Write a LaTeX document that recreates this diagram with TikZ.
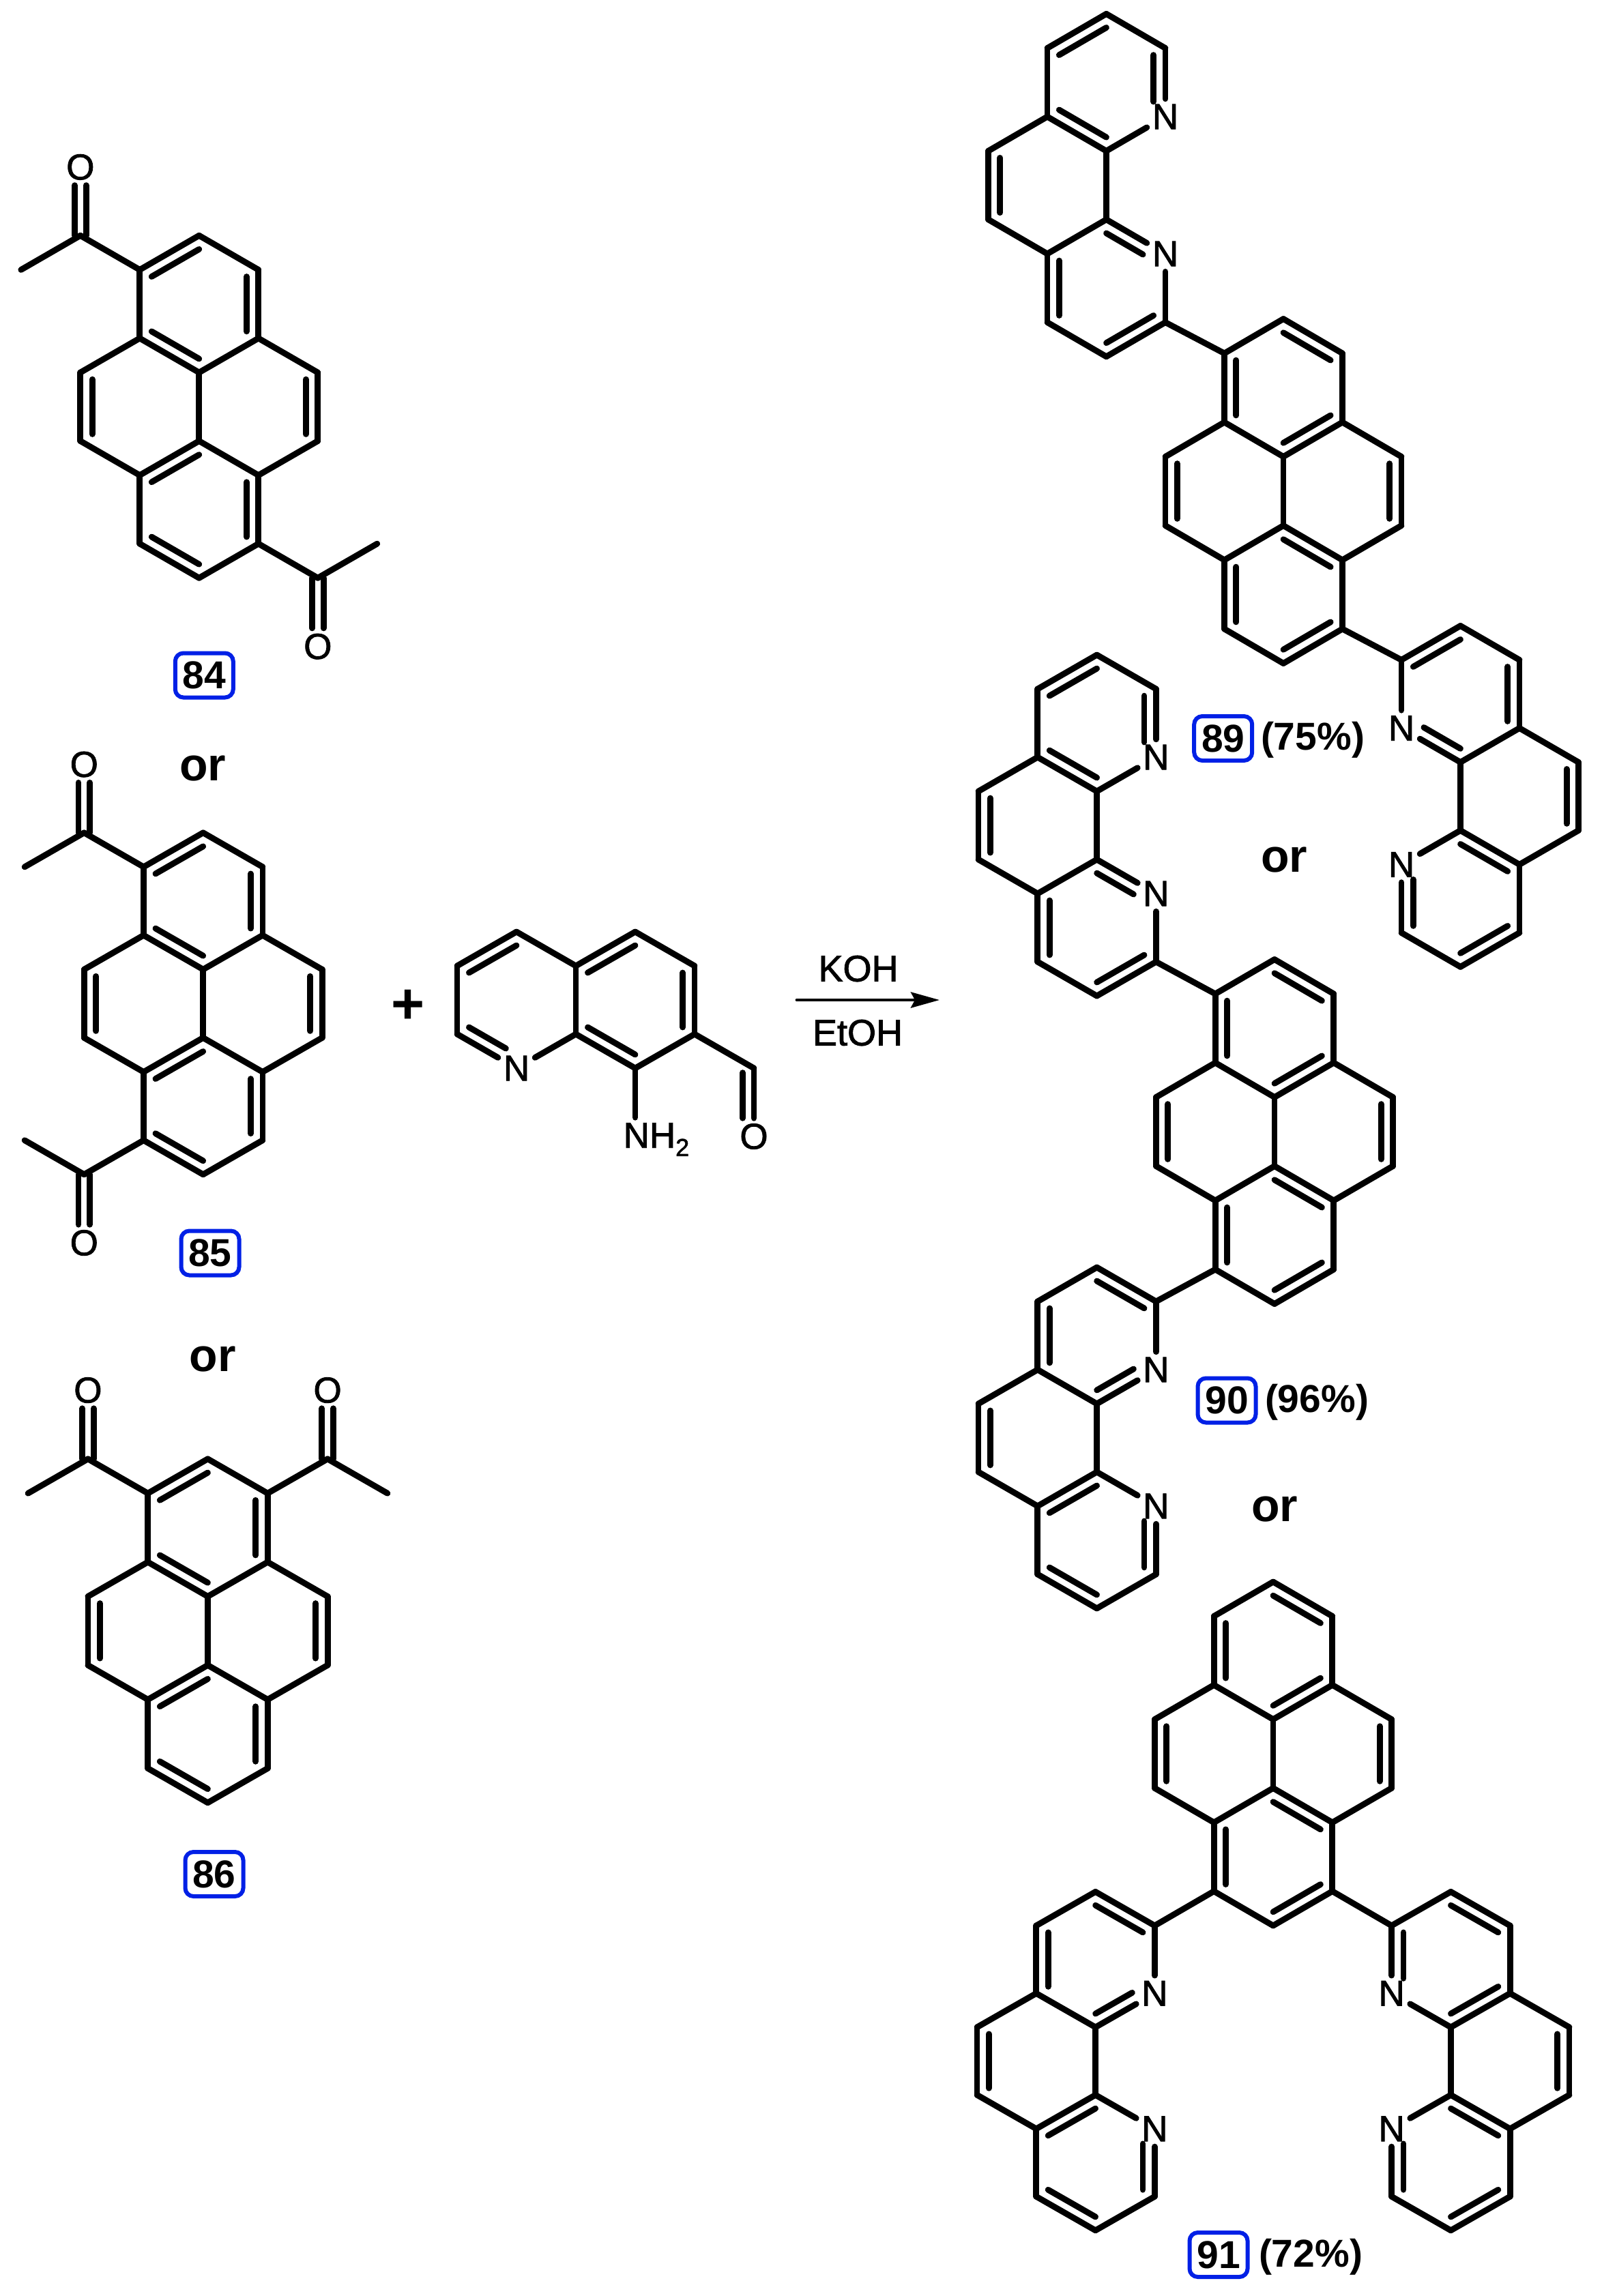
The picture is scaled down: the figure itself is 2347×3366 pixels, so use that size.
\documentclass[tikz,border=0pt]{standalone}
\usepackage{fontspec}
\setmainfont{Liberation Sans}
\newfontfamily\heavyfont[FakeBold=1.6]{Liberation Sans}
\usetikzlibrary{calc,arrows.meta}
\definecolor{idblue}{RGB}{0,32,230}
\tikzset{
  bond/.style={line width=4.4pt,line cap=round,line join=round},
  atom/.style={font=\heavyfont\fontsize{26.5}{27}\selectfont,inner sep=4pt,outer sep=0pt},
  idbox/.style={draw=idblue,line width=3pt,rounded corners=6pt,minimum width=42.5pt,minimum height=32.5pt,inner sep=0pt,font=\fontsize{28.5}{29}\selectfont\bfseries},
  yieldtxt/.style={inner sep=0pt,font=\fontsize{28.5}{29}\selectfont\bfseries},
  ortxt/.style={inner sep=0pt,font=\fontsize{34}{35}\selectfont\bfseries},
  reagent/.style={inner sep=0pt,font=\heavyfont\fontsize{27}{28}\selectfont},
  plustxt/.style={inner sep=0pt,font=\fontsize{42}{43}\selectfont\bfseries},
  rxnarrow/.style={line width=2.4pt,line cap=round,-{Stealth[length=21pt,width=11.5pt,inset=3pt]}}
}
\newcommand\bondS[2]{\draw[bond] (#1) -- (#2);}
\newcommand\bondD[3]{\draw[bond] (#1) -- (#2);\draw[bond] ($(#1)!0.2!(#3)$) -- ($(#2)!0.2!(#3)$);}
% double bond ending on a labelled N: #1 atom, #2 N node, #3 ring centre, #4 extra shortening
\newcommand\bondN[4]{\draw[bond] (#1) -- (#2);\draw[bond,shorten >=#4] ($(#1)!0.2!(#3)$) -- ($(#2)!0.2!(#3)$);}
\newcommand\PyrAtoms[1]{%
  \coordinate (#1c1) at (0,-1);\coordinate (#1c2) at (0,1);
  \coordinate (#1a1) at (-1,-2);\coordinate (#1a2) at (1,-2);
  \coordinate (#1a3) at (-1,2);\coordinate (#1a4) at (1,2);
  \coordinate (#1b1) at (-1,-4);\coordinate (#1t) at (0,-5);\coordinate (#1b2) at (1,-4);
  \coordinate (#1l1) at (-2,-1);\coordinate (#1l2) at (-2,1);
  \coordinate (#1r1) at (2,-1);\coordinate (#1r2) at (2,1);
  \coordinate (#1b3) at (-1,4);\coordinate (#1bt) at (0,5);\coordinate (#1b4) at (1,4);
  \coordinate (#1Rt) at (0,-3);\coordinate (#1Rb) at (0,3);
  \coordinate (#1Rl) at (-1,0);\coordinate (#1Rr) at (1,0);
  \bondS{#1c1}{#1c2}\bondS{#1a1}{#1l1}\bondS{#1l2}{#1a3}\bondS{#1a2}{#1r1}\bondS{#1r2}{#1a4}
  \bondD{#1l1}{#1l2}{#1Rl}\bondD{#1r1}{#1r2}{#1Rr}}
% Kekule pattern of the acetyl pyrenes
\newcommand\PyrK[1]{\PyrAtoms{#1}%
  \bondD{#1b1}{#1t}{#1Rt}\bondS{#1t}{#1b2}\bondD{#1b2}{#1a2}{#1Rt}\bondS{#1a2}{#1c1}\bondD{#1c1}{#1a1}{#1Rt}\bondS{#1a1}{#1b1}
  \bondD{#1c2}{#1a3}{#1Rb}\bondS{#1a3}{#1b3}\bondD{#1b3}{#1bt}{#1Rb}\bondS{#1bt}{#1b4}\bondD{#1b4}{#1a4}{#1Rb}\bondS{#1a4}{#1c2}}
% Kekule pattern of the products
\newcommand\PyrA[1]{\PyrAtoms{#1}%
  \bondD{#1b1}{#1a1}{#1Rt}\bondS{#1b1}{#1t}\bondD{#1t}{#1b2}{#1Rt}\bondS{#1b2}{#1a2}\bondD{#1a2}{#1c1}{#1Rt}\bondS{#1c1}{#1a1}
  \bondD{#1a3}{#1b3}{#1Rb}\bondS{#1b3}{#1bt}\bondD{#1bt}{#1b4}{#1Rb}\bondS{#1b4}{#1a4}\bondD{#1a4}{#1c2}{#1Rb}\bondS{#1c2}{#1a3}}
% acetyl: #1 name, #2 ring atom, #3 carbonyl C, #4 methyl, #5 O, #6 anchor of O facing C
\newcommand\Acetyl[6]{%
  \coordinate (#1C) at (#3);\coordinate (#1M) at (#4);
  \node[atom] (#1O) at (#5) {O};
  \bondS{#2}{#1C}\bondS{#1C}{#1M}
  \draw[bond] ([xshift=-4.15pt]#1C) -- ([xshift=-4.15pt]#1O.#6);
  \draw[bond] ([xshift=4.15pt]#1C) -- ([xshift=4.15pt]#1O.#6);}
\newcommand\PhenAtoms[1]{%
  \coordinate (#1p0) at (0,0);\node[atom] (#1n1) at (0,-2) {N};
  \coordinate (#1p2) at (-1,-3);\coordinate (#1p3) at (-2,-2);
  \coordinate (#1p4) at (-2,0);\coordinate (#1p5) at (-1,1);
  \coordinate (#1p6) at (-1,-5);\node[atom] (#1n2) at (0,-6) {N};
  \coordinate (#1p8) at (0,-8);\coordinate (#1p9) at (-1,-9);
  \coordinate (#1p10) at (-2,-8);\coordinate (#1p11) at (-2,-6);
  \coordinate (#1p12) at (-3,-5);\coordinate (#1p13) at (-3,-3);
  \coordinate (#1R1) at (-1,-1);\coordinate (#1R2) at (-2,-4);\coordinate (#1R3) at (-1,-7);
  \bondS{#1p2}{#1p6}\bondS{#1p3}{#1p13}\bondD{#1p13}{#1p12}{#1R2}\bondS{#1p12}{#1p11}
  \bondD{#1p11}{#1p6}{#1R3}\bondS{#1p6}{#1n2}\bondN{#1p8}{#1n2}{#1R3}{6pt}
  \bondS{#1p8}{#1p9}\bondD{#1p9}{#1p10}{#1R3}\bondS{#1p10}{#1p11}}
\newcommand\PhenA[1]{\PhenAtoms{#1}%
  \bondD{#1p0}{#1p5}{#1R1}\bondS{#1p5}{#1p4}\bondD{#1p4}{#1p3}{#1R1}\bondS{#1p3}{#1p2}
  \bondN{#1p2}{#1n1}{#1R1}{9pt}\bondS{#1p0}{#1n1}}
\newcommand\PhenB[1]{\PhenAtoms{#1}%
  \bondN{#1p0}{#1n1}{#1R1}{6pt}\bondS{#1n1}{#1p2}\bondD{#1p2}{#1p3}{#1R1}\bondS{#1p3}{#1p4}
  \bondD{#1p4}{#1p5}{#1R1}\bondS{#1p5}{#1p0}}
\begin{document}
\begin{tikzpicture}[x=0.5pt,y=-0.5pt]
\fill[white] (0,0) rectangle (2347,3366);
\useasboundingbox (0,0) rectangle (2347,3366);

% 84
\begin{scope}[shift={(291.8,596.3)},x=43.5pt,y=-25.1pt]
  \PyrK{A}
  \Acetyl{Aw}{Ab1}{-2,-5}{-3,-4}{-2,-7}{south}
  \Acetyl{Ae}{Ab4}{2,5}{3,4}{2,7}{north}
\end{scope}
\node[idbox] (id84) at (299.3,990) {84};
\node[ortxt] (or1) at (297,1127) {or};

% 85
\begin{scope}[shift={(297.7,1471.3)},x=43.6pt,y=-25.05pt]
  \PyrK{B}
  \Acetyl{Bw}{Bb1}{-2,-5}{-3,-4}{-2,-7}{south}
  \Acetyl{Be}{Bb3}{-2,5}{-3,4}{-2,7}{north}
\end{scope}
\node[idbox] (id85) at (308,1837) {85};
\node[ortxt] (or2) at (311.5,1992) {or};

% 86
\begin{scope}[shift={(304.5,2390.8)},x=43.9pt,y=-25.2pt]
  \PyrK{C}
  \Acetyl{Cw}{Cb1}{-2,-5}{-3,-4}{-2,-7}{south}
  \Acetyl{Ce}{Cb2}{2,-5}{3,-4}{2,-7}{south}
\end{scope}
\node[idbox] (id86) at (314,2747.5) {86};

% aminoquinoline aldehyde
\begin{scope}[shift={(844,1466)},x=43.5pt,y=-25pt]
  \coordinate (q1) at (0,-1);\coordinate (q2) at (0,1);
  \coordinate (q3) at (-1,-2);\coordinate (q4) at (-2,-1);\coordinate (q5) at (-2,1);
  \node[atom] (qN) at (-1,2) {N};
  \coordinate (q7) at (1,-2);\coordinate (q8) at (2,-1);\coordinate (q9) at (2,1);\coordinate (q10) at (1,2);
  \coordinate (qC) at (3,2);\coordinate (qnh) at (1,4);
  \node[atom] (qO) at (3,4) {O};
  \coordinate (qRL) at (-1,0);\coordinate (qRR) at (1,0);
  \node[atom,inner sep=0pt,anchor=base west] (nh) at ([xshift=-8.7pt,yshift=-8.35pt]qnh) {NH\raisebox{-6pt}{\fontsize{18}{18}\selectfont 2}};
  \bondS{q1}{q3}\bondD{q3}{q4}{qRL}\bondS{q4}{q5}\bondN{q5}{qN}{qRL}{9pt}\bondS{qN}{q2}
  \bondS{q1}{q2}\bondD{q1}{q7}{qRR}\bondS{q7}{q8}\bondD{q8}{q9}{qRR}\bondS{q9}{q10}\bondD{q10}{q2}{qRR}
  \bondS{q9}{qC}
  \draw[bond] (qC) -- (qO);
  \draw[bond] ([xshift=-8.25pt,yshift=-3.3pt]qC) -- ([xshift=-8.25pt]qO.north);
  \draw[bond,shorten >=4pt] (q10) -- (q10 |- nh.north);
\end{scope}

\node[plustxt] (plus) at (598,1476) {+};
\node[reagent] (koh) at (1258,1420) {KOH};
\node[reagent] (etoh) at (1257,1514) {EtOH};
\coordinate (arrowS) at (1168,1466);
\coordinate (arrowE) at (1377,1466);
\draw[rxnarrow] (arrowS) -- (arrowE);

% 89
\begin{scope}[shift={(1881,720)},x=43.25pt,y=-25.25pt]
  \PyrA{D}
  \begin{scope}[shift={(-2,-4.9)},yscale=0.995]\PhenA{Da}\end{scope}
  \begin{scope}[shift={(2,4.9)},xscale=-1,yscale=-0.99]\PhenA{Db}\end{scope}
  \bondS{Db1}{Dap0}\bondS{Db4}{Dbp0}
\end{scope}
\node[idbox] (id89) at (1792.7,1082.5) {89};
\node[yieldtxt] (y89) at (1924,1085) {(75\%)};
\node[ortxt] (or3) at (1882,1261) {or};

% 90
\begin{scope}[shift={(1868,1659)},x=43.4pt,y=-25.25pt]
  \PyrA{E}
  \begin{scope}[shift={(-2,-4.93)},yscale=0.99]\PhenA{Ea}\end{scope}
  \begin{scope}[shift={(-2,4.93)},yscale=-0.99]\PhenA{Eb}\end{scope}
  \bondS{Eb1}{Eap0}\bondS{Eb3}{Ebp0}
\end{scope}
\node[idbox] (id90) at (1798,2053) {90};
\node[yieldtxt] (y90) at (1930,2056) {(96\%)};
\node[ortxt] (or4) at (1868,2212) {or};

% 91
\begin{scope}[shift={(1866,2571)},x=43.4pt,y=-25.2pt]
  \PyrA{F}
  \begin{scope}[shift={(-2,5)},yscale=-0.985]\PhenA{Fa}\end{scope}
  \begin{scope}[shift={(2,5)},xscale=-1,yscale=-0.985]\PhenB{Fb}\end{scope}
  \bondS{Fb3}{Fap0}\bondS{Fb4}{Fbp0}
\end{scope}
\node[idbox] (id91) at (1786,3305.5) {91};
\node[yieldtxt] (y91) at (1921,3309) {(72\%)};
\end{tikzpicture}
\end{document}
